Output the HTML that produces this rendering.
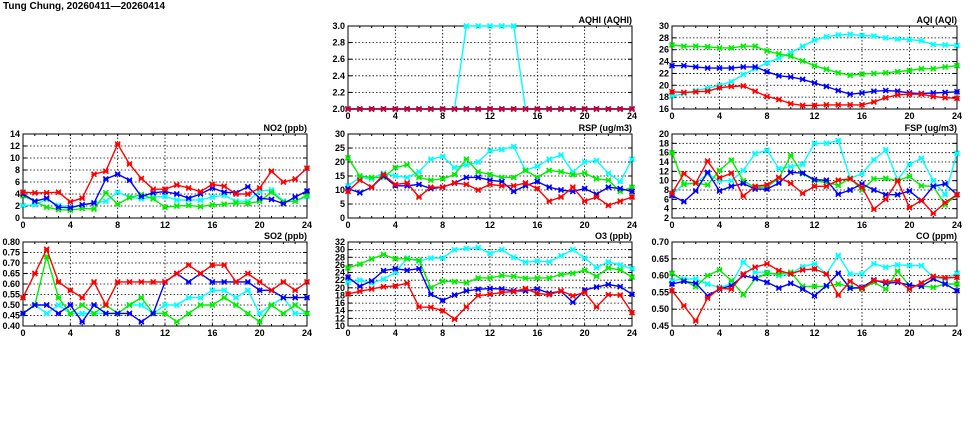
<!DOCTYPE html>
<html><head><meta charset="utf-8"><style>
html,body{margin:0;padding:0;background:#fff;width:975px;height:447px;overflow:hidden}
svg text{font-family:"Liberation Sans",sans-serif;font-weight:bold;font-size:9px;fill:#000}
</style></head><body>
<svg id="chart" width="975" height="447" xmlns="http://www.w3.org/2000/svg">
<text x="3" y="9" style="font-size:10px">Tung Chung, 20260411—20260414</text>
</svg>
<script>
// Hours
const hours = [0,1,2,3,4,5,6,7,8,9,10,11,12,13,14,15,16,17,18,19,20,21,22,23,24];
const xTicks = [0,4,8,12,16,20,24];

// AQHI
const aqhiTicks = [2.0,2.2,2.4,2.6,2.8,3.0];
const aqhiCyan = [2,2,2,2,2,2,2,2,2,2,3,3,3,3,3,2,2,2,2,2,2,2,2,2,2];
const aqhiGreen = [2,2,2,2,2,2,2,2,2,2,2,2,2,2,2,2,2,2,2,2,2,2,2,2,2];
const aqhiBlue = [2,2,2,2,2,2,2,2,2,2,2,2,2,2,2,2,2,2,2,2,2,2,2,2,2];
const aqhiRed = [2,2,2,2,2,2,2,2,2,2,2,2,2,2,2,2,2,2,2,2,2,2,2,2,2];

// AQI
const aqiTicks = [16,18,20,22,24,26,28,30];
const aqiCyan = [18.2,18.6,19.1,19.5,20.0,20.6,21.8,22.8,23.8,24.6,25.5,26.6,27.6,28.2,28.5,28.6,28.4,28.3,28.0,27.8,27.7,27.5,26.9,26.8,26.7];
const aqiGreen = [26.8,26.6,26.6,26.5,26.3,26.3,26.6,26.6,25.8,25.3,24.9,24.1,23.3,22.7,22.1,21.7,21.9,22.0,22.1,22.3,22.5,22.8,22.8,23.1,23.3];
const aqiBlue = [23.3,23.3,23.1,22.9,22.9,22.9,23.1,23.1,22.3,21.6,21.4,21.0,20.4,19.8,19.1,18.5,18.7,19.0,19.1,19.0,18.7,18.6,18.7,18.8,18.9];
const aqiRed = [18.9,18.8,18.9,19.0,19.6,19.8,19.9,19.0,18.1,17.6,16.9,16.6,16.6,16.7,16.7,16.7,16.7,17.2,17.9,18.4,18.5,18.5,18.1,17.9,17.8];

// NO2
const no2Ticks = [0,2,4,6,8,10,12,14];
const no2Cyan = [2.1,2.2,3.1,2.1,1.8,2.2,2.5,2.8,4.3,3.5,3.2,3.5,3.6,3.0,3.0,3.0,3.5,3.8,2.8,2.8,4.5,4.7,2.8,2.8,3.6];
const no2Green = [3.7,2.8,1.8,1.4,1.3,1.6,1.5,4.2,2.3,3.4,3.9,3.2,1.8,2.0,2.1,1.9,2.2,2.3,2.5,2.4,2.8,4.3,2.7,2.8,3.8];
const no2Blue = [4.0,2.8,3.3,1.8,1.7,2.2,2.5,6.5,7.3,6.3,3.6,4.2,4.4,4.0,3.3,4.0,5.0,4.3,4.2,5.2,3.3,3.1,2.4,3.5,4.5];
const no2Red = [4.3,4.2,4.2,4.3,2.7,3.3,7.3,7.8,12.3,9.0,6.6,4.8,4.8,5.5,5.0,4.4,5.6,5.3,4.0,4.0,5.0,7.8,6.0,6.5,8.3];

// RSP
const rspTicks = [0,5,10,15,20,25,30];
const rspCyan = [11.5,14.5,14,16,15,14.5,16.5,21,22,18,19,20,24,24.5,25.5,17,18.5,21,22.5,16.5,20,20.5,16,13,21];
const rspGreen = [21.5,15,14.5,14.5,18,19,14.5,13.5,14,15.5,21,16.5,15.5,14.5,14.5,17,14.5,17,16.5,15.5,16,14,13.5,9.5,11];
const rspBlue = [10.5,9,11,15,11.5,11.5,12,10.5,11,12.5,14.5,14.5,13.5,13,9.5,11.5,13,11,10,9.5,10.5,8.5,11,10.5,9.5];
const rspRed = [9.5,13.5,11,15.5,12,12.5,7.5,11,11,12.5,12,10,12,11.5,11.5,12.5,10.5,6,7.5,11,6,7.5,4.5,6,7.5];

// FSP
const fspTicks = [2,4,6,8,10,12,14,16,18,20];
const fspCyan = [7,9.3,9.5,11.5,10,10,12.2,15.8,16.5,12.6,13,13.5,18,18,18.6,10.5,11.5,14.5,16.6,10.2,13.5,14.8,10,7,15.9];
const fspGreen = [16,9.2,9.5,9.1,12.2,14.4,10,8.5,8.7,10.5,15.4,11.5,10,9.6,9,10.5,8,10.4,10.5,10,10.9,8.9,8.8,4.8,7];
const fspBlue = [6.8,5.5,7.8,11.8,7.8,8.8,9.4,8.2,8.2,9.5,11.8,11.6,10.2,10.1,7.1,8,9.3,8,7,7,7.8,5.7,8.8,9.3,7];
const fspRed = [7.3,11.5,9.5,14.2,10.6,11.6,6.7,8.8,9.1,10.7,9.4,7.3,8.8,8.8,10.1,10.4,8.6,3.9,6,10,4.2,5.8,3.0,5.3,7];

// SO2
const so2Ticks = [0.40,0.45,0.50,0.55,0.60,0.65,0.70,0.75,0.80];
const so2Cyan = [.46,.5,.46,.5,.46,.46,.46,.46,.46,.5,.5,.46,.5,.5,.535,.535,.57,.57,.535,.57,.46,.5,.535,.46,.46];
const so2Green = [.46,.5,.73,.535,.46,.5,.46,.5,.46,.5,.535,.46,.46,.42,.46,.5,.5,.535,.5,.46,.42,.5,.46,.5,.46];
const so2Blue = [.46,.5,.5,.46,.5,.42,.5,.46,.46,.46,.42,.46,.61,.65,.61,.65,.61,.61,.61,.61,.57,.57,.535,.535,.535];
const so2Red = [.535,.65,.765,.61,.57,.535,.61,.5,.61,.61,.61,.61,.61,.65,.69,.65,.69,.69,.61,.65,.61,.57,.61,.57,.61];

// O3
const o3Ticks = [10,12,14,16,18,20,22,24,26,28,30,32];
const o3Cyan = [21.5,22,21.2,22.3,24,27.8,27,27.8,27.8,30,30.3,30.5,29,30,28,26.7,27,26.8,28.4,30,27.8,25.3,26.8,26,25];
const o3Green = [25.2,26.2,27.6,28.7,27.6,27.6,27.2,20,21.7,21.6,21.3,22.6,22.6,23.2,23,22.5,22.6,22.6,23.5,23.8,24.6,23,25.2,24.7,22.8];
const o3Blue = [22.8,20.4,21.8,24.5,25,24.6,25,18.3,16.7,18.1,19.2,19.6,19.8,19.7,19.2,19.2,19.7,18.6,19.1,16.2,19.4,20.2,20.9,20.3,18.3];
const o3Red = [18.4,19.1,19.7,20.3,20.5,21.2,15,14.9,14,11.8,15,18,18.3,18.8,19,19.8,18.5,18.2,19.2,17.9,18.8,15,18.2,18.1,13.5];

// CO
const coTicks = [0.45,0.50,0.55,0.60,0.65,0.70];
const coCyan = [.585,.59,.59,.575,.565,.575,.64,.61,.61,.60,.605,.627,.635,.605,.66,.605,.605,.635,.625,.632,.63,.63,.595,.59,.607];
const coGreen = [.607,.585,.567,.60,.617,.585,.543,.59,.607,.605,.61,.568,.568,.568,.575,.567,.56,.58,.56,.613,.57,.57,.565,.575,.575];
const coBlue = [.575,.583,.577,.54,.56,.57,.60,.592,.58,.563,.577,.56,.54,.57,.607,.562,.565,.587,.577,.58,.572,.568,.59,.575,.555];
const coRed = [.555,.51,.465,.533,.562,.56,.605,.625,.635,.615,.605,.617,.62,.605,.542,.583,.562,.585,.582,.585,.56,.578,.598,.593,.595];

const NS = "http://www.w3.org/2000/svg";
const svg = document.getElementById('chart');
function mk(tag, attrs, parent){
  const e = document.createElementNS(NS, tag);
  for (const k in attrs) e.setAttribute(k, attrs[k]);
  (parent||svg).appendChild(e);
  return e;
}

function panel(name, title, box, ticks, decimals, series){
  const [L,T,R,B] = box;
  const g = mk('g', {});
  
  
  const ymin = ticks[0], ymax = ticks[ticks.length-1];
  const sx = h => L + (h - hours[0]) / (hours[hours.length-1] - hours[0]) * (R - L);
  const sy = v => B - (v - ymin) / (ymax - ymin) * (B - T);
  // grid
  ticks.forEach(t => {
    const y = sy(t);
    if (t !== ymin && t !== ymax) {
      const l = mk('line', {x1:L, x2:R, y1:y, y2:y, stroke:'#000', 'stroke-width':0.8, 'stroke-dasharray':'1.5,2'}, g);
      
      
    }
    const tx = mk('text', {x:L-3, y:y+3, 'text-anchor':'end'}, g);
    tx.textContent = t.toFixed(decimals);
    
    
    mk('line', {x1:L, x2:L+4, y1:y, y2:y, stroke:'#000', 'stroke-width':1}, g);
    mk('line', {x1:R-4, x2:R, y1:y, y2:y, stroke:'#000', 'stroke-width':1}, g);
  });
  hours.forEach(h => {
    const x = sx(h);
    mk('line', {x1:x, x2:x, y1:B, y2:B-2, stroke:'#000', 'stroke-width':1}, g);
    mk('line', {x1:x, x2:x, y1:T, y2:T+2, stroke:'#000', 'stroke-width':1}, g);
  });
  xTicks.forEach(h => {
    const x = sx(h);
    if (h !== xTicks[0] && h !== xTicks[xTicks.length-1]) {
      const l = mk('line', {x1:x, x2:x, y1:T, y2:B, stroke:'#000', 'stroke-width':0.8, 'stroke-dasharray':'1.5,2'}, g);
      
      
    }
    const tx = mk('text', {x:x, y:B+10, 'text-anchor':'middle'}, g);
    tx.textContent = h;
    
    
  });
  const frame = mk('rect', {x:L, y:T, width:R-L, height:B-T, fill:'none', stroke:'#000', 'stroke-width':1}, g);
  
  
  const tt = mk('text', {x:R, y:T-3, 'text-anchor':'end'}, g);
  tt.textContent = title;
  
  
  series.forEach(([vals, color, sname]) => {
    const pts = vals.map((v,i) => sx(hours[i]).toFixed(1) + ',' + sy(v).toFixed(1)).join(' ');
    const pl = mk('polyline', {points:pts, fill:'none', stroke:color, 'stroke-width':1.4}, g);
    
    
    vals.forEach((v,i) => {
      const x = sx(hours[i]), y = sy(v);
      const m = mk('path', {d:`M${x-2.5},${y-2.5}L${x+2.5},${y+2.5}M${x-2.5},${y+2.5}L${x+2.5},${y-2.5}M${x-2.5},${y}L${x+2.5},${y}`, stroke:color, 'stroke-width':1.6, fill:'none'}, g);
      
      
    });
  });
}

panel('aqhi', 'AQHI (AQHI)', [348,26,632,109], aqhiTicks, 1,
  [[aqhiCyan,'#00ffff','cyan'],[aqhiGreen,'#00ee00','green'],[aqhiBlue,'#0000ff','blue'],[aqhiRed,'#cc0033','red']]);
panel('aqi', 'AQI (AQI)', [672,26,957,109], aqiTicks, 0,
  [[aqiCyan,'#00ffff','cyan'],[aqiGreen,'#00ee00','green'],[aqiBlue,'#0000ff','blue'],[aqiRed,'#ff0000','red']]);
panel('no2', 'NO2 (ppb)', [23,134,307,218], no2Ticks, 0,
  [[no2Cyan,'#00ffff','cyan'],[no2Green,'#00ee00','green'],[no2Blue,'#0000ff','blue'],[no2Red,'#ff0000','red']]);
panel('rsp', 'RSP (ug/m3)', [348,134,632,218], rspTicks, 0,
  [[rspCyan,'#00ffff','cyan'],[rspGreen,'#00ee00','green'],[rspBlue,'#0000ff','blue'],[rspRed,'#ff0000','red']]);
panel('fsp', 'FSP (ug/m3)', [672,134,957,218], fspTicks, 0,
  [[fspCyan,'#00ffff','cyan'],[fspGreen,'#00ee00','green'],[fspBlue,'#0000ff','blue'],[fspRed,'#ff0000','red']]);
panel('so2', 'SO2 (ppb)', [23,242,307,326], so2Ticks, 2,
  [[so2Cyan,'#00ffff','cyan'],[so2Green,'#00ee00','green'],[so2Blue,'#0000ff','blue'],[so2Red,'#ff0000','red']]);
panel('o3', 'O3 (ppb)', [348,242,632,326], o3Ticks, 0,
  [[o3Cyan,'#00ffff','cyan'],[o3Green,'#00ee00','green'],[o3Blue,'#0000ff','blue'],[o3Red,'#ff0000','red']]);
panel('co', 'CO (ppm)', [672,242,957,326], coTicks, 2,
  [[coCyan,'#00ffff','cyan'],[coGreen,'#00ee00','green'],[coBlue,'#0000ff','blue'],[coRed,'#ff0000','red']]);
</script>
</body></html>
